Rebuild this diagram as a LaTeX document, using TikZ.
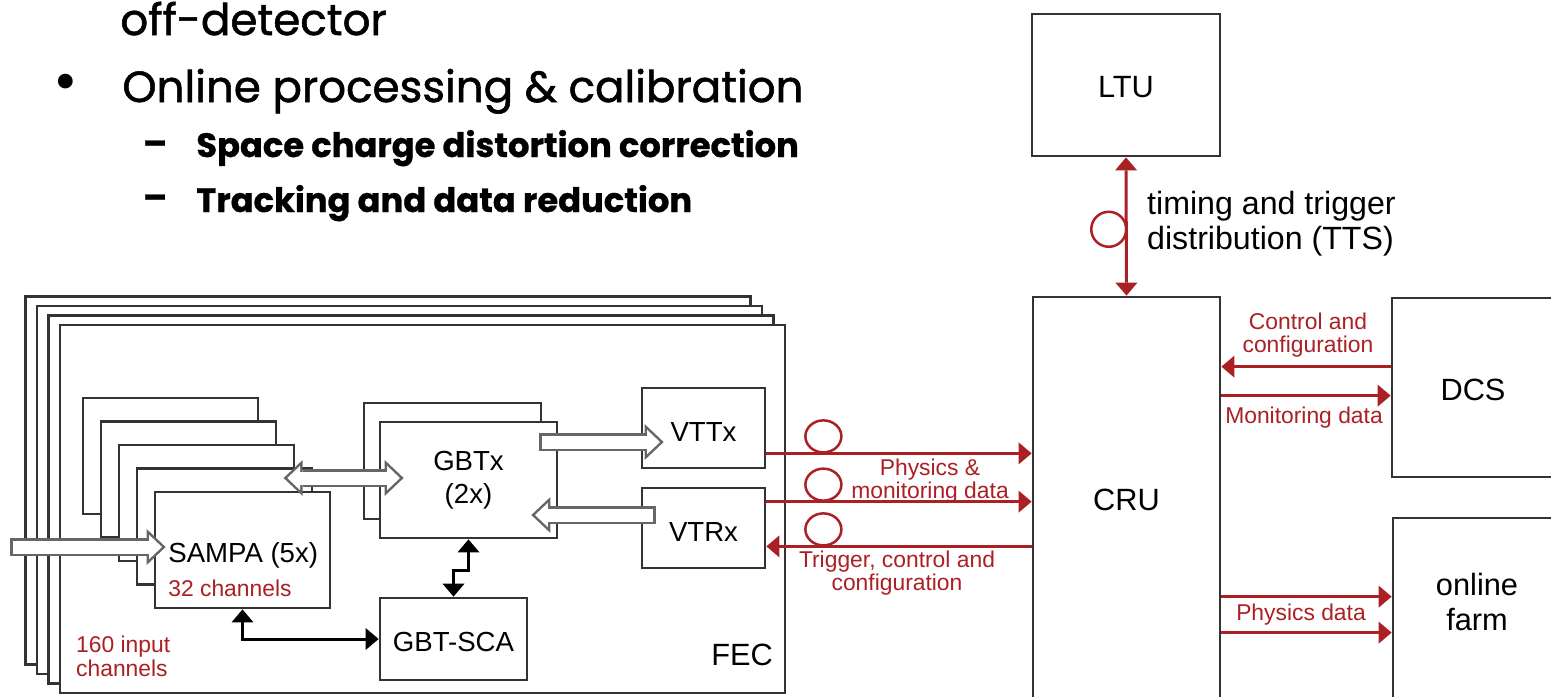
\documentclass[tikz,border=0pt]{standalone}
\usepackage{fontspec}
\setmainfont{Liberation Sans}
\newfontfamily\slidefont{Poppins}[FakeBold=1.3]
\newfontfamily\slidefontb{Poppins}[BoldFeatures={FakeBold=0.8}]
\usetikzlibrary{arrows.meta,calc,fit}
\definecolor{darkred}{RGB}{170,32,36}

% hollow (outlined) arrow: grey body, then white body on top
\newcommand\hollowarrow[4][]{%
  \draw[hollowout,#2] #3 -- #4;
  \draw[hollowin,#2,#1] #3 -- #4;}

\begin{document}
\begin{tikzpicture}[x=0.2mm,y=-0.2mm,
    box/.style={draw=black!80,line width=0.55mm,fill=white,inner sep=0pt},
    lbl/.style={font=\fontsize{15.7}{19}\selectfont,align=center},
    biglbl/.style={font=\fontsize{17.5}{20}\selectfont,align=center},
    redlbl/.style={text=darkred,font=\fontsize{13}{13.5}\selectfont,align=center},
    slide/.style={inner sep=0pt,anchor=base west,font=\slidefont\fontsize{24.8}{28}\selectfont},
    subslide/.style={inner sep=0pt,anchor=base west,font=\slidefontb\bfseries\fontsize{19.2}{24}\selectfont},
    redarr/.style={draw=darkred,line width=0.6mm,>={Triangle[length=2.6mm,width=4.4mm,line width=0pt]}},
    blkarr/.style={draw=black,line width=0.6mm,>={Triangle[length=2.6mm,width=4.4mm,line width=0pt]}},
    fibre/.style={draw=darkred,line width=0.5mm},
    hollowout/.style={draw=black!60,line width=3.6mm,>={Triangle[length=3.8mm,width=7.2mm,line width=0pt]}},
    hollowin/.style={draw=white,line width=2.6mm,shorten >=0.73mm,shorten <=0.5mm,
      >={Triangle[length=2.57mm,width=4.88mm,line width=0pt]}}]
\useasboundingbox (0,0) rectangle (1551,696);

% slide text
\node[slide] (off) at (120,35) {off-detector};
\node[inner sep=0pt,font=\slidefontb\fontsize{34}{34}\selectfont] (bul) at (66,88) {•};
\node[slide] (online) at (122,102) {Online processing \& calibration};
\node[inner sep=0pt,font=\slidefontb\bfseries\fontsize{20}{24}\selectfont] (dash1) at (155,148) {–};
\node[subslide] (space) at (196,157) {Space charge distortion correction};
\node[inner sep=0pt,font=\slidefontb\bfseries\fontsize{20}{24}\selectfont] (dash2) at (155,202) {–};
\node[subslide] (track) at (196,212) {Tracking and data reduction};

% FEC cards
\foreach \k in {3,2,1}
  \draw[box] ($(60,325)+(-11.5*\k,-9.5*\k)$) rectangle ++(725,368);
\node[box,fit={(60,325)(785,693)}] (fec) {};
\node[biglbl] (feclbl) at (742,655) {FEC};
\node[redlbl,align=left,anchor=west] (inch) at (70,656) {160 input\\channels};

% SAMPA
\foreach \k in {4,3,2,1}
  \draw[box] ($(155,492)+(-18*\k,-23.5*\k)$) rectangle ++(175,116);
\node[box,fit={(155,492)(330,608)}] (sampa) {};
\node[lbl,anchor=west,inner sep=0pt] (sampalbl) at (168,555) {SAMPA (5x)};
\node[redlbl,anchor=west,inner sep=0pt] (chan) at (168,588) {32 channels};

% GBTx, links, SCA
\draw[box] (364,403) rectangle ++(177,116);
\node[box,fit={(380,422)(557,538)}] (gbtx) {};
\node[box,fit={(642,388)(765,468)}] (vttx) {};
\node[box,fit={(642,488)(765,568)}] (vtrx) {};
\node[box,fit={(380,598)(527,680)}] (sca) {};
\node[lbl] (gbtxlbl) at (gbtx) {GBTx\\(2x)};
\node[lbl] (vttxlbl) at ($(vttx)+(0,4)$) {VTTx};
\node[lbl] (vtrxlbl) at ($(vtrx)+(0,4)$) {VTRx};
\node[lbl] (scalbl) at ($(sca)+(0,3)$) {GBT-SCA};

% hollow data arrows
\coordinate (in) at (10,547);
\hollowarrow{->}{(in)}{($(in -| sampa.west)+(12,0)$)}
\hollowarrow[shorten <=0.73mm]{<->}{($(gbtx.west)+(-95,-2)$)}{($(gbtx.west)+(25,-2)$)}
\hollowarrow{->}{($(gbtx.east)+(-19,-38)$)}{($(vttx.west)+(23,14)$)}
\hollowarrow{->}{($(vtrx.west)+(15,-13)$)}{($(gbtx.east)+(-27,35)$)}

% slow control
\draw[blkarr,<->] (gbtx.south) -- ++(0,31) -| (sca.north);
\draw[blkarr,<->] (sampa.south) |- (sca.west);

% off-detector side
\node[box,fit={(1032,14)(1220,156)}] (ltu) {};
\node[box,fit={(1033,297)(1220,703)}] (cru) {};
\node[box,fit={(1392,298)(1562,477)}] (dcs) {};
\node[box,fit={(1393,518)(1562,720)}] (farm) {};
\node[biglbl] (ltulbl) at ($(ltu)+(0,2)$) {LTU};
\node[biglbl] (crulbl) at (cru) {CRU};
\node[biglbl] (dcslbl) at ($(dcs)+(-4,2)$) {DCS};
\node[biglbl] (farmlbl) at (1477,602) {online\\farm};

\draw[redarr,<->] (ltu.south) -- (cru.north);
\draw[fibre] ($(ltu.south)!0.52!(cru.north)+(-17.5,0)$) circle (17.5);
\node[biglbl,align=left,anchor=west,font=\fontsize{18.3}{20}\selectfont] (tts) at (1141,224) {timing and trigger\\distribution (TTS)};

% optical links FEC - CRU
\coordinate (tx) at ($(vttx.south east)+(0,-16)$);
\coordinate (rx) at ($(vtrx.north east)+(0,15)$);
\coordinate (trg) at ($(vtrx.south east)+(0,-23)$);
\draw[redarr,->] (tx) -- (tx -| cru.west);
\draw[redarr,->] (rx) -- (rx -| cru.west);
\draw[redarr,->] (trg -| cru.west) -- (trg);
\foreach \c in {tx,rx,trg}
  \draw[fibre] ($(\c)+(57,-17)$) ellipse (18 and 16);
\node[redlbl] (physlbl) at (930,481) {Physics \&\\monitoring data};
\node[redlbl] (trglbl) at (897,573) {Trigger, control and\\configuration};

% CRU - DCS / farm
\coordinate (ctl) at ($(dcs.north west)+(0,70)$);
\coordinate (mon) at ($(dcs.north west)+(0,99)$);
\draw[redarr,->] (ctl) -- (ctl -| cru.east);
\draw[redarr,->] (mon -| cru.east) -- (mon);
\node[redlbl] (ctllbl) at (1308,335) {Control and\\configuration};
\node[redlbl] (monlbl) at (1304,418) {Monitoring data};
\coordinate (ph1) at ($(farm.north west)+(0,80)$);
\coordinate (ph2) at ($(farm.north west)+(0,116)$);
\draw[redarr,->] (ph1 -| cru.east) -- (ph1);
\draw[redarr,->] (ph2 -| cru.east) -- (ph2);
\node[redlbl] (physdata) at (1301,615) {Physics data};
\end{tikzpicture}
\end{document}
